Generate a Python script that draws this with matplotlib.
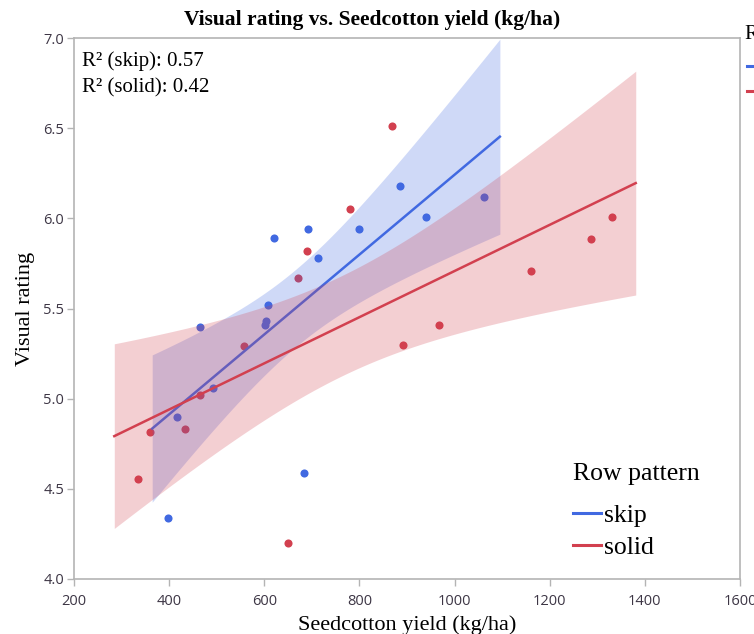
import matplotlib
matplotlib.use("Agg")
import matplotlib.pyplot as plt
from matplotlib.lines import Line2D
import numpy as np

# data
skip_yield = [397.6, 416, 465, 492, 602, 604, 608, 620, 683.5, 692, 712, 800, 885, 940, 1062]
skip_rating = [4.34, 4.90, 5.40, 5.06, 5.41, 5.43, 5.52, 5.89, 4.59, 5.94, 5.78, 5.94, 6.18, 6.01, 6.12]
solid_yield = [334.5, 360, 433, 465, 557, 650, 671, 690, 780, 868.5, 891.6, 967, 1160.7, 1287, 1331]
solid_rating = [4.555, 4.815, 4.83, 5.02, 5.29, 4.20, 5.67, 5.82, 6.05, 6.51, 5.30, 5.41, 5.71, 5.885, 6.005]

groups = ['skip', 'solid']
colors = {'skip': '#4169e1', 'solid': '#d2404f'}
t_crit = {13: 2.160}  # two-sided 95%, df = n - 2

serif = 'Liberation Serif'
tickfont = 'Open Sans'
tickcol = '#3d3645'
spinecol = '#b4b4b4'

fig = plt.figure(figsize=(7.54, 6.34), dpi=100)
ax = fig.add_axes([74/754, 1-579/634, 666/754, 541/634])

def fit_band(x, y):
    x = np.asarray(x, float); y = np.asarray(y, float)
    n = len(x)
    slope, icpt = np.polyfit(x, y, 1)
    pad = 0.05 * (x.max() - x.min())
    xs = np.linspace(x.min() - pad, x.max() + pad, 100)
    yhat = icpt + slope * xs
    resid = y - (icpt + slope * x)
    s = np.sqrt(np.sum(resid**2) / (n - 2))
    sxx = np.sum((x - x.mean())**2)
    se = s * np.sqrt(1/n + (xs - x.mean())**2 / sxx)
    half = t_crit[n - 2] * se
    r2 = 1 - np.sum(resid**2) / np.sum((y - y.mean())**2)
    return xs, yhat, yhat - half, yhat + half, r2

data = {'skip': (skip_yield, skip_rating), 'solid': (solid_yield, solid_rating)}
r2s = {}
for g in groups:
    x, y = data[g]
    ax.scatter(x, y, s=34, color=colors[g], zorder=1, linewidths=0)
# band then fit line, skip first so the solid band sits over the skip line
z = 2
for g in groups:
    x, y = data[g]
    xs, yhat, lo, hi, r2 = fit_band(x, y)
    r2s[g] = r2
    ax.fill_between(xs, lo, hi, color=colors[g], alpha=0.25, linewidth=0, zorder=z)
    ax.plot(xs, yhat, color=colors[g], lw=1.8, zorder=z + 1)
    z += 2

ax.set_xlim(200, 1600)
ax.set_ylim(4.0, 7.0)
ax.set_xticks(np.arange(200, 1601, 200))
ax.set_yticks(np.arange(4.0, 7.01, 0.5))
ax.set_yticklabels(['%.1f' % v for v in np.arange(4.0, 7.01, 0.5)])
ax.tick_params(direction='out', length=5, width=1, color=spinecol,
               labelsize=10.5, labelcolor=tickcol, pad=2)
ax.tick_params(axis='x', pad=6)
for lab in ax.get_xticklabels() + ax.get_yticklabels():
    lab.set_fontfamily(tickfont)
for sp in ax.spines.values():
    sp.set_color(spinecol)
    sp.set_linewidth(1.2)

ax.set_xlabel('Seedcotton yield (kg/ha)', fontfamily=serif, fontsize=16, labelpad=4)
ax.set_ylabel('Visual rating', fontfamily=serif, fontsize=16, labelpad=6)
fig.text(372/754, 1-20/634, 'Visual rating vs. Seedcotton yield (kg/ha)', ha='center', va='center',
         fontfamily=serif, fontsize=15.5, fontweight='bold')

ax.text(0.012, 0.975, 'R² (skip): %.2f\nR² (solid): %.2f' % (r2s['skip'], r2s['solid']),
        transform=ax.transAxes, ha='left', va='top', fontfamily=serif, fontsize=15,
        linespacing=1.5)

handles = [Line2D([], [], color=colors[g], lw=2.2) for g in groups]
leg = ax.legend(handles, groups, title='Row pattern', loc='upper left',
                bbox_to_anchor=(550/754, 1-440/634), bbox_transform=fig.transFigure,
                frameon=False, prop={'family': serif, 'size': 18.5},
                title_fontproperties={'family': serif, 'size': 18.5},
                handlelength=1.1, handletextpad=0.1, labelspacing=0.38, alignment='left')
leg.set_zorder(10)
leg._legend_box.sep = 13.3  # wider gap under the title

# outer legend, cut off by the image edge
fig.text(745/754, 1-35/634, 'Row pattern', ha='left', va='center',
         fontfamily=serif, fontsize=15)
fig.legend(handles, groups, loc='upper left',
           bbox_to_anchor=(728/754, 1-40/634), frameon=False,
           prop={'family': serif, 'size': 15},
           handlelength=1.5, handletextpad=0.2, labelspacing=0.25)

fig.savefig('out.png', dpi=100)
